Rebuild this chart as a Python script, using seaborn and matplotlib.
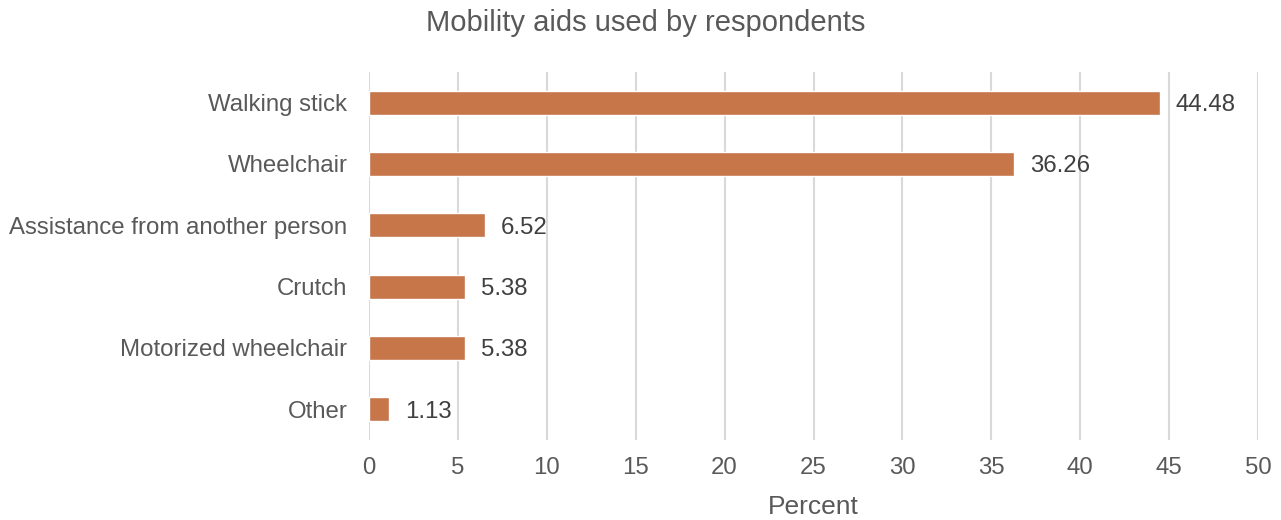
import matplotlib
matplotlib.use("Agg")
import matplotlib.pyplot as plt
import seaborn as sns
import pandas as pd

categories = ["Walking stick", "Wheelchair", "Assistance from another person",
              "Crutch", "Motorized wheelchair", "Other"]
values = [44.48, 36.26, 6.52, 5.38, 5.38, 1.13]
value_labels = ["44.48", "36.26", "6.52", "5.38", "5.38", "1.13"]
xticks = [0, 5, 10, 15, 20, 25, 30, 35, 40, 45, 50]

sns.set_theme(style="white")
plt.rcParams['font.family'] = ['Liberation Sans', 'DejaVu Sans']

df = pd.DataFrame({"category": categories, "value": values})

fig = plt.figure(figsize=(12.81, 5.2), dpi=100)
ax = fig.add_axes([369/1281, 1 - 440/520, (1258 - 369)/1281, (440 - 72)/520])

sns.barplot(data=df, x="value", y="category", color="#C7764A", width=0.39,
            saturation=1, ax=ax, orient="h")

ax.set_xlim(0, 50)
ax.set_xticks(xticks)
ax.set_xticklabels([str(t) for t in xticks])
ax.set_ylim(5.5, -0.5)
ax.grid(axis="x", color="#D9D9D9", linewidth=1.5)
ax.set_axisbelow(True)
for s in ax.spines.values():
    s.set_visible(False)
ax.tick_params(axis="both", length=0, labelsize=17.3, colors="#595959")
ax.tick_params(axis="x", pad=12)
ax.tick_params(axis="y", pad=15.5)
ax.set_xlabel("Percent", fontsize=19, color="#595959", labelpad=12)
ax.set_ylabel("")

for i, (v, lab) in enumerate(zip(values, value_labels)):
    ax.annotate(lab, xy=(v, i), xytext=(11.5, 0), textcoords="offset points",
                va="center_baseline", ha="left", fontsize=17.3, color="#404040")

fig.text(646 / 1281, 1 - 23/520, "Mobility aids used by respondents",
         ha="center", va="center", fontsize=21, color="#595959")

fig.savefig("out.png", dpi=100)
